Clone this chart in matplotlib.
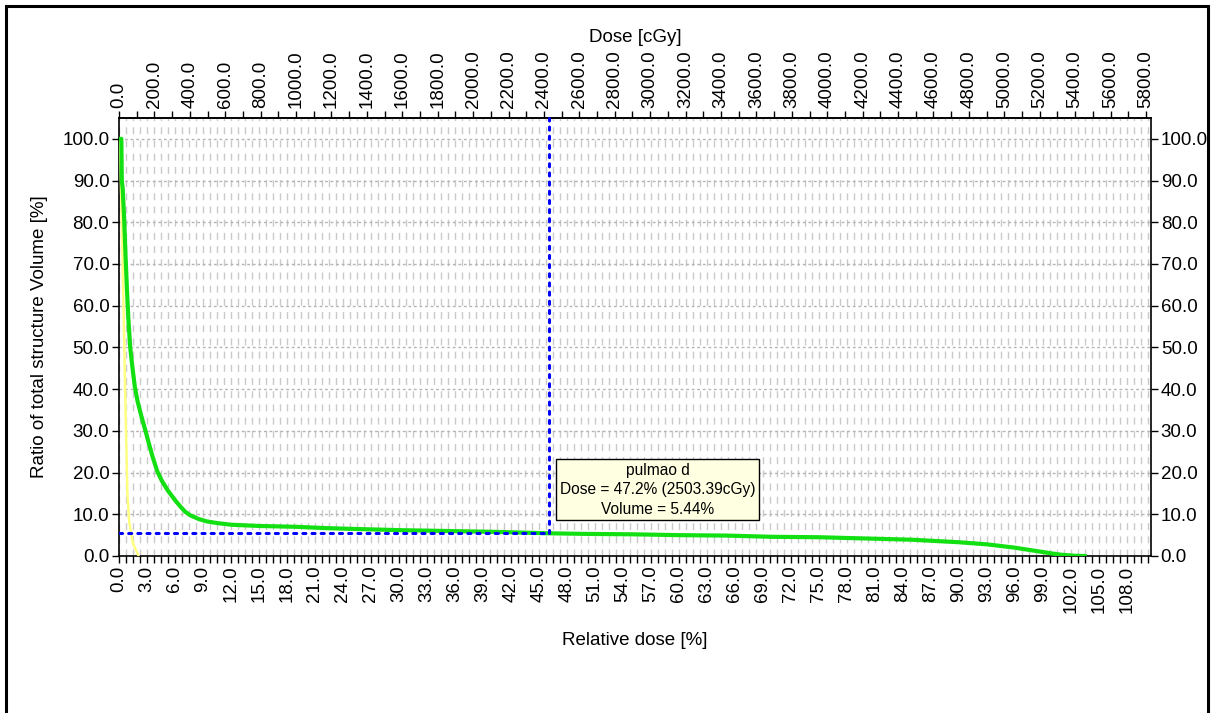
import matplotlib
matplotlib.use("Agg")
import matplotlib.pyplot as plt
from matplotlib.ticker import MultipleLocator, FormatStrFormatter
from matplotlib.patches import Rectangle

plt.rcParams['font.family'] = ['Liberation Sans', 'DejaVu Sans']

# ---- data ----
green_x = [0.0, 0.25, 0.3, 0.4, 0.55, 0.7, 0.85, 1.0, 1.2, 1.45, 1.7, 2.0, 2.4,
           2.8, 3.2, 3.6, 4.1, 4.6, 5.2, 6.0, 6.6, 7.1, 7.6, 8.5, 9.4, 10.5,
           12.0, 15.0, 19.0, 22.0, 25.0, 30.0, 35.0, 40.0, 46.1,
           50.0, 55.0, 60.0, 65.0, 70.0, 75.0, 80.0, 85.0, 90.0, 93.0, 96.0,
           98.0, 100.0, 101.0, 102.5, 103.5]
green_y = [100, 100, 90, 88, 81, 72, 64, 57, 50, 45, 40.5, 37, 33.5,
           30.3, 27, 23.8, 20.3, 18, 15.8, 13.4, 11.8, 10.6, 9.8, 8.9, 8.3, 7.9,
           7.5, 7.2, 7.0, 6.7, 6.5, 6.2, 6.0, 5.8, 5.44,
           5.3, 5.2, 5.0, 4.9, 4.6, 4.5, 4.2, 3.9, 3.3, 2.8, 2.0,
           1.3, 0.6, 0.3, 0.05, 0.0]
yellow_x = [0.1, 0.3, 0.5, 0.7, 0.9, 1.1, 1.5, 2.1]
yellow_y = [100, 80, 58, 35, 15, 8, 3, 0]

cursor_x = 46.1
cursor_vol = 5.44
cGy_per_pct = 52.7
tooltip_lines = ["pulmao d", "Dose = 47.2% (2503.39cGy)", "Volume = 5.44%"]

x_max = 110.6
y_max = 105.0

FS = 13.5

fig = plt.figure(figsize=(12.13, 7.13), dpi=100)
W, H = 1213, 713
ax = fig.add_axes([119 / W, 1 - 556 / H, (1151 - 119) / W, (556 - 118) / H])

# frame around the figure
fig.patches.append(Rectangle((6 / W, -0.05), (1208 - 6) / W, 1 - 6 / H + 0.05,
                             transform=fig.transFigure, fill=False,
                             edgecolor='black', linewidth=2.2))

ax.set_xlim(0, x_max)
ax.set_ylim(0, y_max)

# grid
ax.xaxis.set_major_locator(MultipleLocator(3.0))
ax.xaxis.set_minor_locator(MultipleLocator(0.75))
ax.yaxis.set_major_locator(MultipleLocator(10.0))
ax.grid(which='both', axis='x', color='#cacaca', linewidth=1.0, dashes=(5, 4.5))
ax.grid(which='major', axis='y', color='#b4b4b4', linewidth=1.0, dashes=(2, 2))
ax.set_axisbelow(True)

# curves
ax.plot(yellow_x, yellow_y, color='#ffff80', linewidth=1.8, zorder=3)
ax.plot(green_x, green_y, color='#12e012', linewidth=3.0, zorder=4)

# cursor
ax.plot([cursor_x, cursor_x], [cursor_vol, y_max], color='#0000ff',
        linewidth=2.2, dashes=(1, 2), dash_capstyle='round', zorder=5, clip_on=False)
ax.plot([0, cursor_x], [cursor_vol, cursor_vol], color='#0000ff',
        linewidth=2.2, dashes=(1, 2), dash_capstyle='round', zorder=5)

# tooltip
ax.text(cursor_x + 11.6, cursor_vol + 10.4, "\n".join(tooltip_lines),
        ha='center', va='center', multialignment='center', fontsize=11.2,
        linespacing=1.38, zorder=6,
        bbox=dict(boxstyle='square,pad=0.22', facecolor='#ffffe1',
                  edgecolor='black', linewidth=1.0))

# bottom axis
ax.xaxis.set_major_formatter(FormatStrFormatter('%.1f'))
ax.tick_params(axis='x', which='both', direction='out', length=5, width=1,
               labelsize=FS, labelrotation=90, pad=2)
ax.set_xlabel("Relative dose [%]", fontsize=FS, labelpad=14)

# left / right axis
ax.yaxis.set_major_formatter(FormatStrFormatter('%.1f'))
ax.tick_params(axis='y', which='both', direction='out', length=5, width=1,
               labelsize=FS, left=True, right=True, labelleft=True,
               labelright=True, pad=2)
ax.set_ylabel("Ratio of total structure Volume [%]", fontsize=FS, labelpad=10)

# top axis in cGy
sec = ax.secondary_xaxis('top', functions=(lambda p: p * cGy_per_pct,
                                           lambda d: d / cGy_per_pct))
sec.xaxis.set_major_locator(MultipleLocator(200))
sec.xaxis.set_minor_locator(MultipleLocator(100))
sec.xaxis.set_major_formatter(FormatStrFormatter('%.1f'))
sec.tick_params(axis='x', which='both', direction='out', length=5, width=1,
                labelsize=FS, labelrotation=90, pad=2)
sec.set_xlabel("Dose [cGy]", fontsize=FS, labelpad=6)

for s in list(ax.spines.values()) + list(sec.spines.values()):
    s.set_linewidth(1.2)

fig.savefig("out.png", dpi=100)
